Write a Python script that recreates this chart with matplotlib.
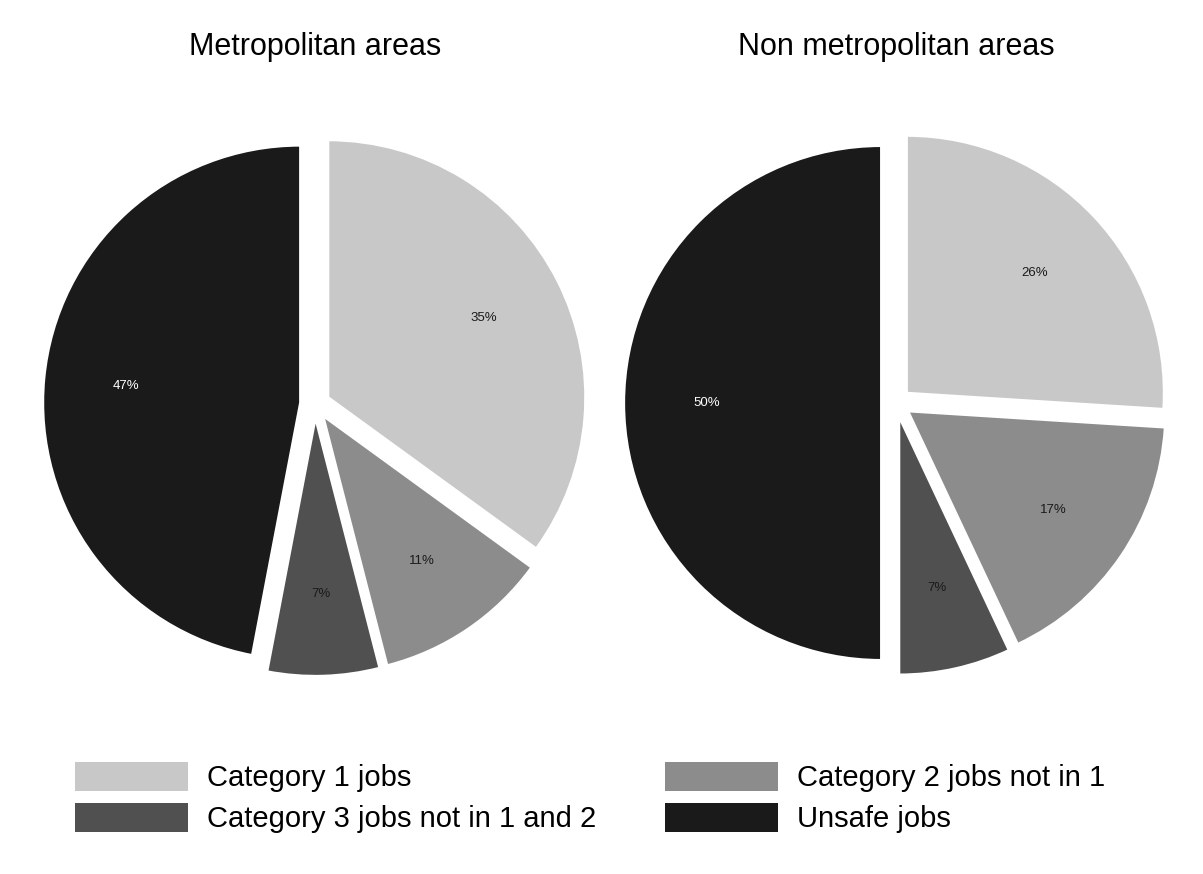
import matplotlib.pyplot as plt
from matplotlib.patches import Patch

plt.rcParams['font.family'] = ['Liberation Sans', 'DejaVu Sans']

# data
categories = ['Category 1 jobs', 'Category 2 jobs not in 1',
              'Category 3 jobs not in 1 and 2', 'Unsafe jobs']
metro = [35, 11, 7, 47]
non_metro = [26, 17, 7, 50]
titles = ['Metropolitan areas', 'Non metropolitan areas']
colors = ['#c8c8c8', '#8c8c8c', '#505050', '#1a1a1a']
pct_colors = ['#1a1a1a', '#1a1a1a', '#1a1a1a', 'white']

W, H = 1203, 874
fig = plt.figure(figsize=(W / 100, H / 100), dpi=100)

R = 257      # pie radius in pixels
L = 1.1      # half range of axes in data units
side = 2 * L * R
centers = [(315, 404), (896, 403)]

for (cx, cy), vals, title in zip(centers, [metro, non_metro], titles):
    ax = fig.add_axes([(cx - side / 2) / W, 1 - (cy + side / 2) / H, side / W, side / H])
    wedges, texts, autotexts = ax.pie(
        vals, colors=colors, startangle=90, counterclock=False,
        explode=[0.058] * len(vals), autopct='%d%%', pctdistance=0.68,
        wedgeprops=dict(edgecolor='white', linewidth=1.5),
        textprops=dict(fontsize=9.5))
    for t, c in zip(autotexts, pct_colors):
        t.set_color(c)
    ax.set_xlim(-L, L)
    ax.set_ylim(-L, L)
    ax.axis('off')
    fig.text(cx / W, 1 - 47 / H, title, ha='center', va='center', fontsize=22)

handles = [Patch(facecolor=c, edgecolor='none') for c in colors]
order = [0, 2, 1, 3]
fig.legend([handles[i] for i in order], [categories[i] for i in order],
           ncol=2, loc='upper left', bbox_to_anchor=(75 / W, 1 - 762 / H),
           frameon=False, fontsize=21, handlelength=3.87, handleheight=1.15,
           handletextpad=0.65, columnspacing=2.37, labelspacing=0.35,
           borderpad=0, borderaxespad=0)

fig.savefig('out.png', dpi=100)
